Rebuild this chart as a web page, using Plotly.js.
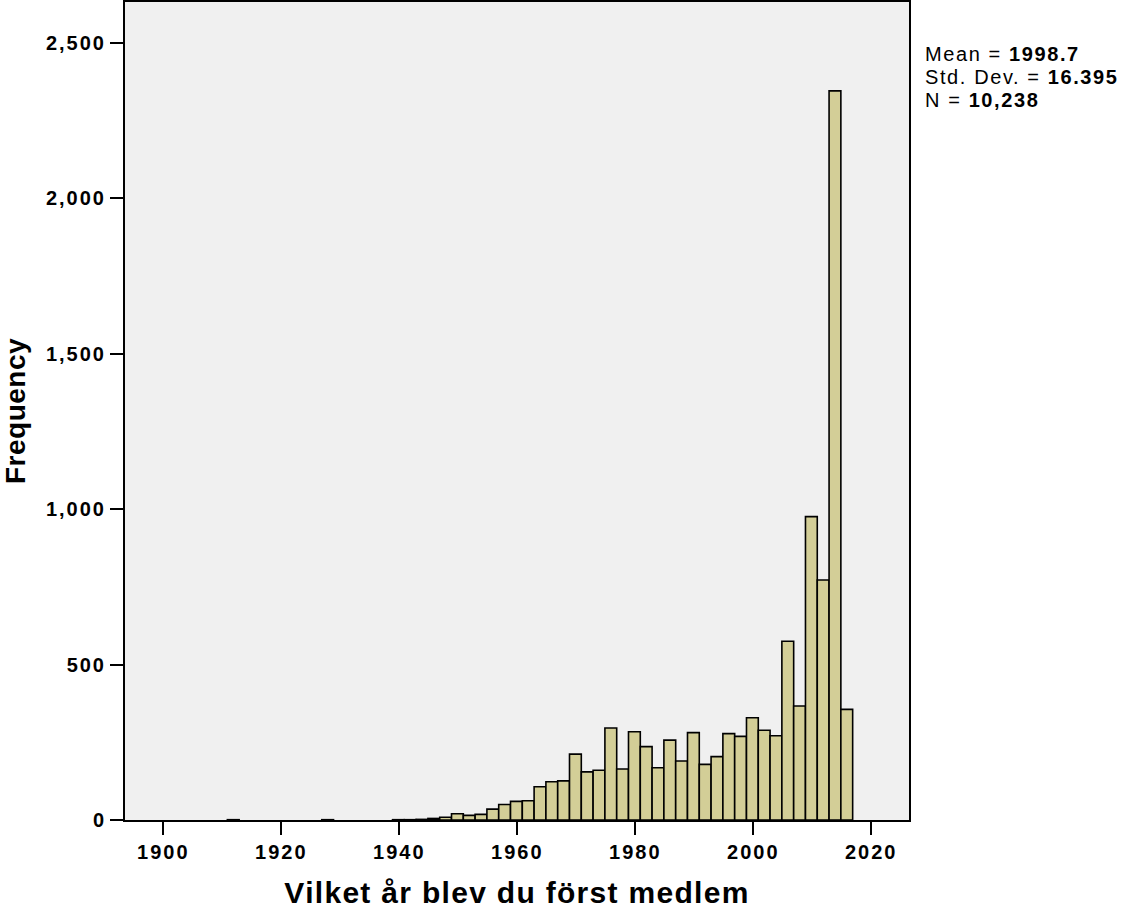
<!DOCTYPE html>
<html>
<head>
<meta charset="utf-8">
<script src="https://cdn.plot.ly/plotly-3.0.1.min.js"></script>
<style>
  html, body { margin: 0; padding: 0; background: #ffffff; }
  #chart { width: 1127px; height: 909px; }
  .xtick text, .ytick text { letter-spacing: 2px; }
  .annotation-text { letter-spacing: 1.6px; }
  text.xtitle { letter-spacing: 1.3px; }
  text.ytitle { letter-spacing: 0.5px; }
</style>
</head>
<body>
<div id="chart"></div>
<script>
// Histogram bins (2-year width): left edge of each bin and its frequency
const binWidth = 2;
const binStarts = [1910.85, 1926.85, 1938.85, 1940.85, 1942.85, 1944.85, 1946.85, 1948.85,
  1950.85, 1952.85, 1954.85, 1956.85, 1958.85, 1960.85, 1962.85, 1964.85, 1966.85, 1968.85,
  1970.85, 1972.85, 1974.85, 1976.85, 1978.85, 1980.85, 1982.85, 1984.85, 1986.85, 1988.85,
  1990.85, 1992.85, 1994.85, 1996.85, 1998.85, 2000.85, 2002.85, 2004.85, 2006.85, 2008.85,
  2010.85, 2012.85, 2014.85];
const frequencies = [1, 1, 1, 1, 2, 5, 9, 20,
  15, 18, 35, 50, 60, 62, 107, 123, 126, 212,
  155, 160, 296, 164, 284, 236, 168, 257, 190, 281,
  179, 204, 278, 269, 329, 289, 271, 575, 367, 976,
  772, 2346, 356];

const xTickVals = [1900, 1920, 1940, 1960, 1980, 2000, 2020];
const yTickVals = [0, 500, 1000, 1500, 2000, 2500];

const statLabels = ["Mean = ", "Std. Dev. = ", "N = "];
const statValues = ["1998.7", "16.395", "10,238"];

const xTitle = "Vilket år blev du först medlem";
const yTitle = "Frequency";

const FONT = '"Liberation Sans", Arial, Helvetica, sans-serif';

const trace = {
  type: 'bar',
  x: binStarts.map(s => s + binWidth / 2),
  y: frequencies,
  width: binStarts.map(() => binWidth),
  marker: { color: '#d3ce97', line: { color: '#000000', width: 1.6 } },
  hoverinfo: 'x+y'
};

const statY = [0.9364, 0.9083, 0.8802];
const annotations = statLabels.map((lab, i) => ({
  xref: 'paper', yref: 'paper',
  x: 1.0179, y: statY[i],
  xanchor: 'left', yanchor: 'middle',
  showarrow: false,
  text: lab + '<b>' + statValues[i] + '</b>',
  font: { family: FONT, size: 20, color: '#000000' }
}));

const layout = {
  width: 1127, height: 909,
  margin: { l: 125, r: 218, t: 2, b: 89, pad: 0 },
  paper_bgcolor: '#ffffff',
  plot_bgcolor: '#f0f0f0',
  showlegend: false,
  bargap: 0,
  font: { family: FONT, color: '#000000' },
  xaxis: {
    range: [1893.5, 2026.4],
    tickmode: 'array', tickvals: xTickVals, ticktext: xTickVals.map(String),
    showgrid: false, zeroline: false,
    showline: true, linecolor: '#000000', linewidth: 2, mirror: true,
    ticks: 'outside', ticklen: 13, tickwidth: 2, tickcolor: '#000000',
    tickfont: { family: FONT, size: 20, weight: 'bold', color: '#000000' },
    title: { text: xTitle, standoff: 22, font: { family: FONT, size: 30, weight: 'bold', color: '#000000' } },
    automargin: false, fixedrange: true
  },
  yaxis: {
    range: [0, 2632],
    tickmode: 'array', tickvals: yTickVals, ticktext: yTickVals.map(v => v.toLocaleString('en-US')),
    showgrid: false, zeroline: false,
    showline: true, linecolor: '#000000', linewidth: 2, mirror: true,
    ticks: 'outside', ticklen: 13, tickwidth: 2, tickcolor: '#000000',
    tickfont: { family: FONT, size: 20, weight: 'bold', color: '#000000' },
    title: { text: yTitle, standoff: 17, font: { family: FONT, size: 28, weight: 'bold', color: '#000000' } },
    automargin: false, fixedrange: true
  },
  annotations: annotations
};

Plotly.newPlot('chart', [trace], layout, { staticPlot: true, displayModeBar: false });
</script>
</body>
</html>
